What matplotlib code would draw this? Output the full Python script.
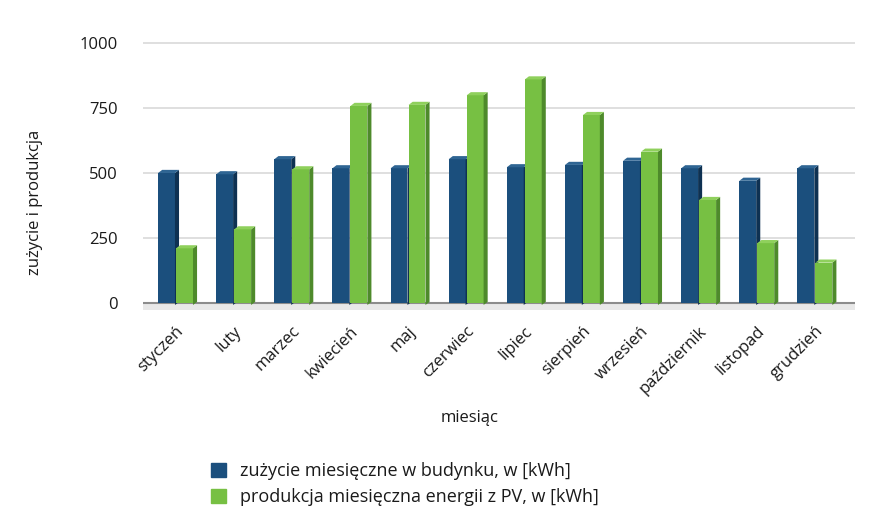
import numpy as np
import matplotlib
matplotlib.use("Agg")
import matplotlib.pyplot as plt
from matplotlib.patches import Polygon, Patch

plt.rcParams['font.family'] = ['Open Sans', 'DejaVu Sans']

# ----------------------------
# Data
# ----------------------------
months = ["styczeń", "luty", "marzec", "kwiecień", "maj", "czerwiec",
          "lipiec", "sierpień", "wrzesień", "październik", "listopad", "grudzień"]
consumption = [500, 495, 553, 518, 518, 553, 522, 531, 547, 518, 470, 518]
production = [210, 283, 514, 758, 762, 799, 860, 723, 582, 396, 230, 155]

label_cons = "zużycie miesięczne w budynku, w [kWh]"
label_prod = "produkcja miesięczna energii z PV, w [kWh]"

blue_front, blue_side, blue_top = "#1b4f7d", "#0e3152", "#2f6593"
green_front, green_side, green_top = "#77c043", "#4e8a2b", "#8fd05c"

# ----------------------------
# Plot
# ----------------------------
fig = plt.figure(figsize=(8.91, 5.28), dpi=100)
ax = fig.add_axes([143 / 891, 1 - 312 / 528, 712 / 891, 277 / 528])

x = np.arange(len(months))
w = 0.29
dx, dy = 0.07, 12   # fake 3d depth


def bars3d(xs, vals, front, side, top):
    ax.bar(xs, vals, width=w, color=front, zorder=3, linewidth=0)
    for xc, v in zip(xs, vals):
        r = xc + w / 2
        l = xc - w / 2
        ax.add_patch(Polygon([(r, -8), (r + dx, -8 + dy), (r + dx, v + dy), (r, v)],
                             closed=True, color=side, lw=0, zorder=3))
        ax.add_patch(Polygon([(l, v), (l + dx, v + dy), (r + dx, v + dy), (r, v)],
                             closed=True, color=top, lw=0, zorder=3))


# floor
ax.fill_between([-0.56, 11.69], [-26, -26], [0, 0], color="#e8e8e8", zorder=1, lw=0)
ax.axhline(0, color="#8c8c8c", lw=1.5, zorder=2)

bars3d(x - 0.155, consumption, blue_front, blue_side, blue_top)
bars3d(x + 0.155, production, green_front, green_side, green_top)

ax.set_xlim(-0.56, 11.69)
ax.set_ylim(-35, 1031)
ax.set_yticks([0, 250, 500, 750, 1000])
ax.yaxis.grid(True, color="#d9d9d9", lw=1.2, zorder=0)
ax.set_axisbelow(True)
for s in ax.spines.values():
    s.set_visible(False)
ax.tick_params(axis="both", length=0, labelsize=12, colors="#1a1a1a")
ax.tick_params(axis="y", pad=18)
ax.set_xticks(x)
ax.set_xticklabels(months, rotation=45, ha="right", rotation_mode="anchor")
ax.tick_params(axis="x", pad=8)

fig.text(35 / 891, 1 - 202 / 528, "zużycie i produkcja", rotation=90,
         ha="center", va="center", fontsize=12, color="#1a1a1a")
fig.text(470 / 891, 1 - 418 / 528, "miesiąc", ha="center", va="center",
         fontsize=12, color="#1a1a1a")

handles = [Patch(color=blue_front), Patch(color=green_front)]
fig.legend(handles, [label_cons, label_prod], loc="center left",
           bbox_to_anchor=(195 / 891, 1 - 484 / 528), frameon=False,
           fontsize=13, handlelength=0.8, handleheight=0.8, handletextpad=0.8,
           labelspacing=0.45, labelcolor="#1a1a1a")

plt.savefig("out.png", dpi=100)
